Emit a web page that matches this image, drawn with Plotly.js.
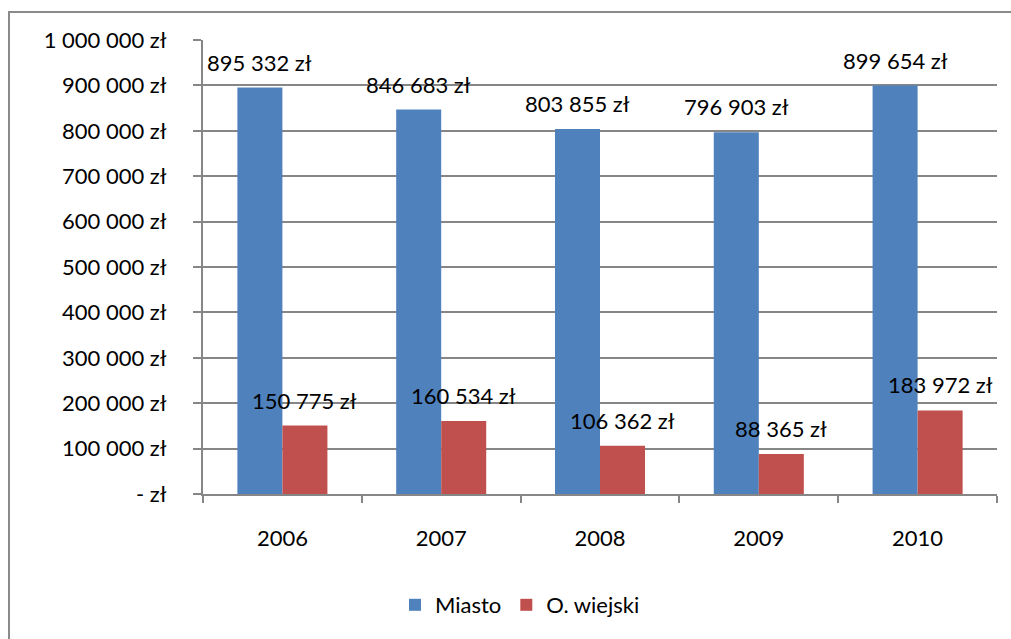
<!DOCTYPE html>
<html>
<head>
<meta charset="utf-8">
<script src="https://cdn.plot.ly/plotly-3.0.1.min.js"></script>
<style>html,body{margin:0;padding:0;background:#fff;}#chart{width:1011px;height:639px;}</style>
</head>
<body>
<div id="chart"></div>
<script>
const years = ['2006', '2007', '2008', '2009', '2010'];
const miasto = [895332, 846683, 803855, 796903, 899654];
const wiejski = [150775, 160534, 106362, 88365, 183972];
const yTickVals = [0, 100000, 200000, 300000, 400000, 500000, 600000, 700000, 800000, 900000, 1000000];
const yTickText = ['- zł', '100 000 zł', '200 000 zł', '300 000 zł', '400 000 zł', '500 000 zł', '600 000 zł', '700 000 zł', '800 000 zł', '900 000 zł', '1 000 000 zł'];
const seriesNames = ['Miasto', 'O. wiejski'];

const FONT = 'Lato, "Open Sans", sans-serif';
const FS = 22;
function fmt(v) {
  return String(v).replace(/\B(?=(\d{3})+(?!\d))/g, ' ') + ' zł';
}

const traces = [
  {type: 'bar', name: seriesNames[0], x: years, y: miasto, marker: {color: '#4F81BD'}, hoverinfo: 'skip'},
  {type: 'bar', name: seriesNames[1], x: years, y: wiejski, marker: {color: '#C0504D'}, hoverinfo: 'skip'}
];

const annotations = [];
years.forEach((yr, i) => {
  annotations.push({x: i, y: miasto[i], xref: 'x', yref: 'y', text: fmt(miasto[i]), showarrow: false,
    xshift: -22.5, yshift: 10, yanchor: 'bottom', xanchor: 'center', font: {family: FONT, size: FS, color: '#000'}});
  annotations.push({x: i, y: wiejski[i], xref: 'x', yref: 'y', text: fmt(wiejski[i]), showarrow: false,
    xshift: 22.5, yshift: 10, yanchor: 'bottom', xanchor: 'center', font: {family: FONT, size: FS, color: '#000'}});
});

const L = 203, R = 14, T = 40, B = 145;
const PW = 1011 - L - R, PH = 639 - T - B;
const px = p => (p - L) / PW;
const py = p => (639 - B - p) / PH;

const layout = {
  width: 1011, height: 639,
  margin: {l: L, r: R, t: T, b: B, pad: 0},
  paper_bgcolor: '#fff', plot_bgcolor: '#fff',
  font: {family: FONT, size: FS, color: '#000'},
  barmode: 'group', bargap: 0.433, bargroupgap: 0,
  showlegend: true,
  legend: {orientation: 'h', x: px(520), xanchor: 'center', y: py(605), yanchor: 'middle',
    font: {family: FONT, size: FS, color: '#000'}, tracegroupgap: 0},
  xaxis: {type: 'category', range: [-0.5, years.length - 0.5], autorange: false, showgrid: false, zeroline: false,
    showline: true, linecolor: '#868686', linewidth: 2,
    ticks: 'outside', tickson: 'boundaries', ticklen: 7, tickwidth: 2, tickcolor: '#868686', tickangle: 0,
    ticklabelstandoff: 24, tickfont: {family: FONT, size: FS, color: '#000'}, fixedrange: true},
  yaxis: {range: [0, 1000000], autorange: false, tickvals: yTickVals, ticktext: yTickText, showgrid: true, gridcolor: '#868686', gridwidth: 2,
    zeroline: false, showline: true, linecolor: '#868686', linewidth: 2,
    ticks: 'outside', ticklen: 8, tickwidth: 2, tickcolor: '#868686',
    ticklabelstandoff: 22, tickfont: {family: FONT, size: FS, color: '#000'}, fixedrange: true},
  annotations: annotations,
  shapes: [
    {type: 'rect', xref: 'paper', yref: 'paper', x0: px(9), x1: px(1020), y0: py(650), y1: py(12),
      line: {color: '#8a8a8a', width: 2}, fillcolor: 'rgba(0,0,0,0)', layer: 'below'}
  ]
};

Plotly.newPlot('chart', traces, layout, {displayModeBar: false, staticPlot: true});
</script>
</body>
</html>
